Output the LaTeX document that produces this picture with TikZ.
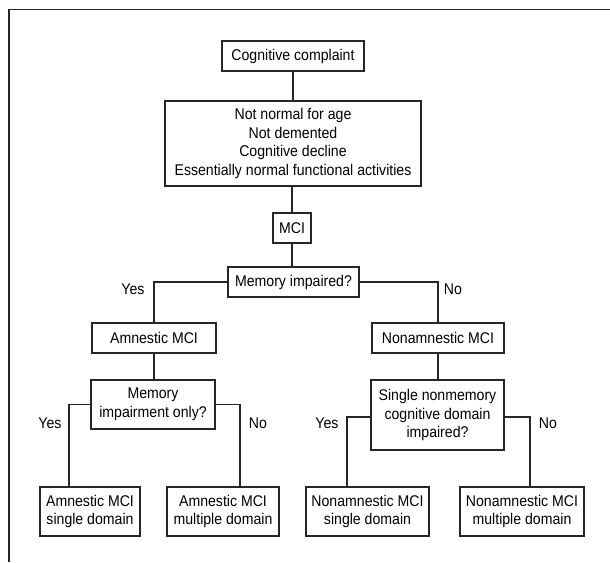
\documentclass[tikz,border=0pt]{standalone}
\usepackage{fontspec}
\setmainfont[FakeStretch=0.91]{Liberation Sans}
\begin{document}
\begin{tikzpicture}[x=1pt,y=-1pt,
  box/.style={draw=black!85,line width=1.2pt,align=center,inner sep=0pt,
    font=\fontsize{15.5}{18.7}\selectfont},
  lbl/.style={font=\fontsize{15.5}{18.7}\selectfont,inner sep=0pt},
  conn/.style={draw=black!85,line width=1.2pt}]
\useasboundingbox (0,0) rectangle (610,562);
\draw[conn] (610,9.5) -- (9,9.5) -- (9,562);
\node[box,minimum width=142pt,minimum height=30pt] (cc) at (293,56) {Cognitive complaint};
\node[box,minimum width=256pt,minimum height=85pt] (big) at (293,143.5)
  {Not normal for age\\Not demented\\Cognitive decline\\Essentially normal functional activities};
\node[box,minimum width=38pt,minimum height=30pt] (mci) at (292,228) {MCI};
\node[box,minimum width=131pt,minimum height=30pt] (mem) at (293.5,282) {Memory impaired?};
\node[box,minimum width=124pt,minimum height=30pt] (amn) at (154,338) {Amnestic MCI};
\node[box,minimum width=132pt,minimum height=30pt] (non) at (438,338) {Nonamnestic MCI};
\node[box,minimum width=124pt,minimum height=49pt] (memonly) at (153,404.5) {Memory\\impairment only?};
\node[box,minimum width=133pt,minimum height=70pt] (single) at (437.5,415) {Single nonmemory\\cognitive domain\\impaired?};
\node[box,minimum width=100pt,minimum height=49pt] (as) at (90,511.5) {Amnestic MCI\\single domain};
\node[box,minimum width=112pt,minimum height=49pt] (am) at (223,511.5) {Amnestic MCI\\multiple domain};
\node[box,minimum width=123pt,minimum height=49pt] (ns) at (367.5,511.5) {Nonamnestic MCI\\single domain};
\node[box,minimum width=124pt,minimum height=49pt] (nm) at (522,511.5) {Nonamnestic MCI\\multiple domain};
\coordinate (xas) at (69,0);
\coordinate (xam) at (240,0);
\coordinate (xns) at (347,0);
\coordinate (xnm) at (530,0);
\draw[conn] (cc.south) -- (cc.south |- big.north);
\draw[conn] (big.south -| mci.north) -- (mci.north);
\draw[conn] (mci.south) -- (mci.south |- mem.north);
\draw[conn] (mem.west) -| (amn.north);
\draw[conn] (mem.east) -| (non.north);
\draw[conn] (amn.south) -- (amn.south |- memonly.north);
\draw[conn] (non.south) -- (non.south |- single.north);
\draw[conn] (memonly.west) -| (xas |- as.north);
\draw[conn] (memonly.east) -| (xam |- am.north);
\draw[conn] ([yshift=-2pt]single.west) -| (xns |- ns.north);
\draw[conn] ([yshift=-2pt]single.east) -| (xnm |- nm.north);
\node[lbl] (y1) at (133,289) {Yes};
\node[lbl] (n1) at (453,289) {No};
\node[lbl] (y2) at (50,423) {Yes};
\node[lbl] (n2) at (258,423) {No};
\node[lbl] (y3) at (327,423) {Yes};
\node[lbl] (n3) at (548,423) {No};
\end{tikzpicture}
\end{document}
